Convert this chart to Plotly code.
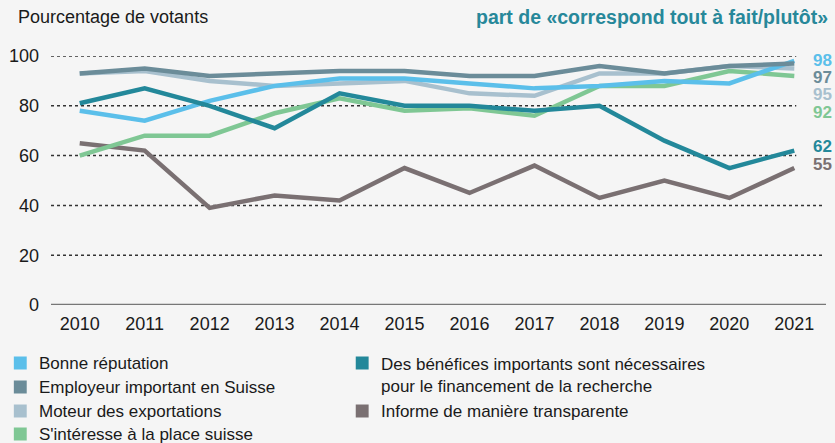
import plotly.graph_objects as go

years = list(range(2010, 2022))

series_names = [
    "Informe de manière transparente",
    "S'intéresse à la place suisse",
    "Moteur des exportations",
    "Bonne réputation",
    "Employeur important en Suisse",
    "Des bénéfices importants sont nécessaires<br>pour le financement de la recherche",
]
informe = [65, 62, 39, 44, 42, 55, 45, 56, 43, 50, 43, 55]
interesse = [60, 68, 68, 77, 83, 78, 79, 76, 88, 88, 94, 92]
moteur = [93, 94, 90, 88, 89, 90, 85, 84, 93, 93, 96, 95]
reputation = [78, 74, 82, 88, 91, 91, 89, 87, 88, 90, 89, 98]
employeur = [93, 95, 92, 93, 94, 94, 92, 92, 96, 93, 96, 97]
benefices = [81, 87, 80, 71, 85, 80, 80, 78, 80, 66, 55, 62]
series_values = [informe, interesse, moteur, reputation, employeur, benefices]
colors = ["#7a7072", "#7fc794", "#a8c0ce", "#5bbfea", "#6b8c99", "#23889a"]
y_ticks = [0, 20, 40, 60, 80, 100]

FONT = "Liberation Sans"
W, H = 835, 443
L, R, T, B = 44, 9, 56, 138
pw, ph = W - L - R, H - T - B
xr = [2009.558, 2021.488]


def px(x):
    return (x - L) / pw


def py(y):
    return (H - B - y) / ph


fig = go.Figure()
for name, vals, col in zip(series_names, series_values, colors):
    fig.add_trace(go.Scatter(x=years, y=vals, mode="lines", name=name,
                             line=dict(color=col, width=4.5), showlegend=False,
                             hoverinfo="skip"))

shapes = []
# gridlines
for t in y_ticks:
    if t == 0:
        shapes.append(dict(type="line", xref="paper", yref="y", x0=0, x1=1, y0=0, y1=0,
                           line=dict(color="#777777", width=2.5), layer="below"))
    else:
        x1 = 2021.03 if t >= 60 else xr[1] - 0.02
        shapes.append(dict(type="line", xref="x", yref="y", x0=xr[0], x1=x1, y0=t, y1=t,
                           line=dict(color="#333333", width=1.5, dash="dot"), layer="below"))

annotations = []
# end value labels
label_y = {5: 63.5, 0: 56.6, 3: 98.0, 4: 91.2, 2: 84.7, 1: 77.5}
for i, vals in enumerate(series_values):
    annotations.append(dict(x=years[-1], y=label_y[i], xref="x", yref="y", xshift=17,
                            text=f"<b>{vals[-1]}</b>", showarrow=False, xanchor="left",
                            yanchor="middle", font=dict(family=FONT, size=17, color=colors[i])))

# titles
annotations.append(dict(x=px(9), y=py(17), xref="paper", yref="paper", text="Pourcentage de votants",
                        showarrow=False, xanchor="left", yanchor="middle",
                        font=dict(family=FONT, size=18, color="#1a1a1a")))
annotations.append(dict(x=px(830), y=py(17), xref="paper", yref="paper",
                        text="<b>part de «correspond tout à fait/plutôt»</b>",
                        showarrow=False, xanchor="right", yanchor="middle",
                        font=dict(family=FONT, size=19.5, color="#27889a")))

# legend (manual, two columns)
legend_items = [
    (3, 13, 363), (4, 13, 387), (2, 13, 411), (1, 13, 434),
    (5, 358, 363), (0, 358, 411),
]
for idx, cx, cy in legend_items:
    shapes.append(dict(type="rect", xref="paper", yref="paper",
                       x0=px(cx - 6.5), x1=px(cx + 6.5), y0=py(cy + 6.5), y1=py(cy - 6.5),
                       fillcolor=colors[idx], line=dict(width=0)))
    annotations.append(dict(x=px(cx + 17), y=py(cy + (12 if "<br>" in series_names[idx] else 0)),
                            xref="paper", yref="paper",
                            text=series_names[idx], showarrow=False, xanchor="left",
                            yanchor="middle", align="left",
                            font=dict(family=FONT, size=17, color="#1a1a1a")))

fig.update_layout(
    width=W, height=H,
    margin=dict(l=L, r=R, t=T, b=B, pad=0),
    paper_bgcolor="#f5f5f5", plot_bgcolor="#f5f5f5",
    font=dict(family=FONT, size=18, color="#1a1a1a"),
    shapes=shapes, annotations=annotations,
    showlegend=False,
)
fig.update_xaxes(range=xr, tickvals=years, ticktext=[str(y) for y in years],
                 showgrid=False, zeroline=False, showline=False, ticks="",
                 ticklabelstandoff=6, tickfont=dict(family=FONT, size=18, color="#1a1a1a"),
                 fixedrange=True)
fig.update_yaxes(range=[0, 100], tickvals=y_ticks, showgrid=False, zeroline=False,
                 showline=False, ticks="", ticklabelstandoff=11,
                 tickfont=dict(family=FONT, size=18, color="#1a1a1a"), fixedrange=True)

fig.write_html(
    "out.html",
    config={"displayModeBar": False},
    post_script="document.body.style.margin='0';document.body.style.padding='0';"
                "document.body.style.background='#f5f5f5';"
                "document.documentElement.style.overflow='hidden';",
)
